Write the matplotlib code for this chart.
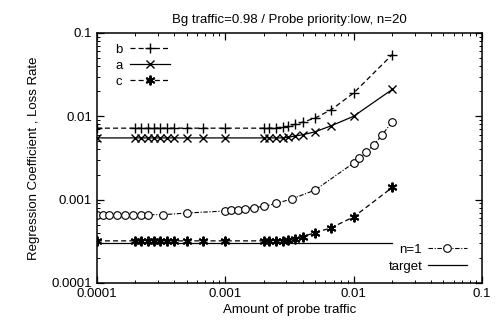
import numpy as np
import matplotlib
matplotlib.use('Agg')
import matplotlib.pyplot as plt
from matplotlib.ticker import FixedLocator, FixedFormatter

plt.rcParams['font.family'] = ['Liberation Sans', 'DejaVu Sans']

# probe traffic values for a, b, c
x_abc = [0.0001, 0.0002, 0.00022, 0.00025, 0.00028, 0.00031, 0.00035, 0.0004, 0.0005,
         0.00067, 0.001, 0.002, 0.0022, 0.0025, 0.0028, 0.0031, 0.0035, 0.004, 0.005,
         0.0067, 0.01, 0.02]
b_vals = [0.0072, 0.0072, 0.0072, 0.0072, 0.0072, 0.0072, 0.0072, 0.0072, 0.0072,
          0.0072, 0.0072, 0.0072, 0.0072, 0.0073, 0.0074, 0.0076, 0.0080, 0.0085, 0.0095,
          0.012, 0.019, 0.055]
a_vals = [0.0055, 0.0055, 0.0055, 0.0055, 0.0055, 0.0055, 0.0055, 0.0055, 0.0055,
          0.0055, 0.0055, 0.0055, 0.0055, 0.0055, 0.0055, 0.0056, 0.0058, 0.0060, 0.0065,
          0.0077, 0.0100, 0.021]
c_vals = [0.00032, 0.00032, 0.00032, 0.00032, 0.00032, 0.00032, 0.00032, 0.00032, 0.00032,
          0.00032, 0.00032, 0.00032, 0.00032, 0.00032, 0.00032, 0.00033, 0.00034, 0.00036,
          0.00040, 0.00046, 0.00062, 0.0014]

# n=1 series
x_n1 = [0.0001, 0.000111, 0.000125, 0.000143, 0.000167, 0.00019, 0.00022, 0.00025, 0.00033,
        0.0005, 0.001, 0.00111, 0.00125, 0.00143, 0.00167, 0.002, 0.0025, 0.0033, 0.005,
        0.01, 0.0111, 0.0125, 0.0143, 0.0167, 0.02]
n1_vals = [0.00065, 0.00065, 0.00065, 0.00065, 0.00065, 0.00065, 0.00065, 0.00066, 0.00066,
           0.00069, 0.00073, 0.00075, 0.00076, 0.00078, 0.0008, 0.00083, 0.0009, 0.00102,
           0.0013, 0.00275, 0.0032, 0.0037, 0.0045, 0.006, 0.0086]

target_x = [0.0001, 0.02]
target_y = [0.0003, 0.0003]

FS = 9.5

fig = plt.figure(figsize=(4.99, 3.26), dpi=100)
ax = fig.add_axes([0.194, 0.132, 0.772, 0.767])

lb, = ax.plot(x_abc, b_vals, color='black', linestyle='--', linewidth=0.9,
              marker='+', markersize=7, markeredgewidth=1.0, dashes=(4, 2.5))
la, = ax.plot(x_abc, a_vals, color='black', linestyle='-', linewidth=0.9,
              marker='x', markersize=5.5, markeredgewidth=1.0)
lc, = ax.plot(x_abc, c_vals, color='black', linestyle='--', linewidth=0.9,
              marker=(6, 2, 0), markersize=7, markeredgewidth=1.4, dashes=(4, 2.5))
ln, = ax.plot(x_n1, n1_vals, color='black', linestyle='-.', linewidth=0.8,
              marker='o', markersize=5.5, markerfacecolor='white', markeredgewidth=0.8,
              dashes=(4, 1.5, 1, 1.5))
lt, = ax.plot(target_x, target_y, color='black', linestyle='-', linewidth=0.9)

ax.set_xscale('log')
ax.set_yscale('log')
ax.set_xlim(0.0001, 0.1)
ax.set_ylim(0.0001, 0.1)

ticks = [0.0001, 0.001, 0.01, 0.1]
labels = ['0.0001', '0.001', '0.01', '0.1']
ax.xaxis.set_major_locator(FixedLocator(ticks))
ax.xaxis.set_major_formatter(FixedFormatter(labels))
ax.yaxis.set_major_locator(FixedLocator(ticks))
ax.yaxis.set_major_formatter(FixedFormatter(labels))
ax.tick_params(which='both', direction='in', top=True, right=True, labelsize=FS)
ax.tick_params(which='major', length=5, width=0.9)
ax.tick_params(which='minor', length=2.5, width=0.7)
for s in ax.spines.values():
    s.set_linewidth(1.1)

ax.set_title('Bg traffic=0.98 / Probe priority:low, n=20', fontsize=FS, pad=7)
ax.set_xlabel('Amount of probe traffic', fontsize=FS, labelpad=3)
ax.set_ylabel('Regression Coefficient , Loss Rate', fontsize=FS, labelpad=8)

leg1 = ax.legend([lb, la, lc], ['b', 'a', 'c'], loc='upper left', markerfirst=False,
                 frameon=False, fontsize=FS, handlelength=3.0, handletextpad=0.6,
                 bbox_to_anchor=(0.02, 1.0), borderaxespad=0.4, labelspacing=0.3)
ax.add_artist(leg1)
ax.legend([ln, lt], ['n=1', 'target'], loc='lower right', markerfirst=False,
          frameon=False, fontsize=FS, handlelength=3.0, handletextpad=0.4,
          bbox_to_anchor=(0.975, 0.02), borderaxespad=0.0, labelspacing=0.35)

fig.savefig('out.png', dpi=100)
